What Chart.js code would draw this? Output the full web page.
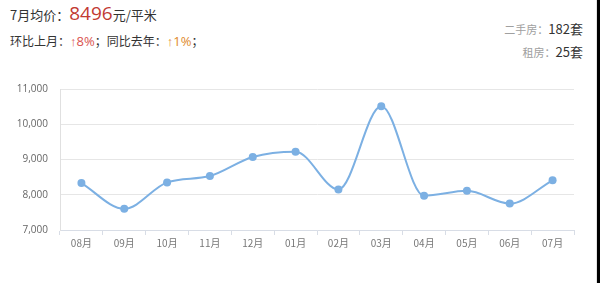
<!DOCTYPE html>
<html>
<head>
<meta charset="utf-8">
<script src="https://cdn.jsdelivr.net/npm/chart.js@4.4.1/dist/chart.umd.min.js"></script>
<style>
  html, body { margin: 0; padding: 0; background: #fff; }
  body { width: 600px; height: 283px; position: relative; overflow: hidden;
         font-family: "Noto Sans CJK SC", "Noto Sans", sans-serif; }
  #wrap { position: absolute; left: 0; top: 0; width: 600px; height: 283px; }
  .edge { position: absolute; top: 0; right: 0; width: 3px; height: 283px; background: #000; }
  .edge2 { position: absolute; top: 0; right: 3px; width: 1px; height: 283px; background: #e4e4e4; }
  .head1 { position: absolute; left: 10px; top: 0px; font-size: 13px; color: #333; white-space: nowrap; }
  .head1 .price { font-family: "Open Sans", "Noto Sans", sans-serif; font-size: 19px; color: #c23a32; }
  .head2 { position: absolute; left: 10px; top: 32px; font-size: 12px; color: #333; white-space: nowrap; }
  .up1 { color: #d9534f; font-family: "Open Sans", sans-serif; font-size: 13px; }
  .up2 { color: #e08a2c; font-family: "Open Sans", sans-serif; font-size: 13px; }
  .side { position: absolute; right: 17px; font-size: 11px; color: #a0a0a0; white-space: nowrap; text-align: right; }
  .side b { font-weight: normal; color: #333; font-size: 13px; }
</style>
</head>
<body>
<div class="head1">7月均价：<span class="price">8496</span>元/平米</div>
<div class="head2">环比上月：<span class="up1">↑8%</span>；同比去年：<span class="up2">↑1%</span>；</div>
<div class="side" style="top:19px">二手房：<b>182套</b></div>
<div class="side" style="top:42px">租房：<b>25套</b></div>
<div id="wrap"><canvas id="c"></canvas></div>
<div class="edge2"></div>
<div class="edge"></div>
<script>
const months = ['08月', '09月', '10月', '11月', '12月', '01月', '02月', '03月', '04月', '05月', '06月', '07月'];
const prices = [8330, 7600, 8350, 8530, 9070, 9220, 8150, 10510, 7970, 8110, 7750, 8410];
const yTicks = [7000, 8000, 9000, 10000, 11000];

const lineColor = '#7cb0e3';

new Chart(document.getElementById('c'), {
  type: 'line',
  data: {
    labels: months,
    datasets: [{
      data: prices,
      borderColor: lineColor,
      backgroundColor: lineColor,
      borderWidth: 2,
      cubicInterpolationMode: 'monotone',
      pointRadius: 4,
      pointBorderWidth: 0,
      pointBackgroundColor: lineColor,
      fill: false
    }]
  },
  options: {
    responsive: true,
    maintainAspectRatio: false,
    animation: false,
    layout: { padding: { top: 89, right: 26, left: 0, bottom: 0 } },
    plugins: { legend: { display: false }, tooltip: { enabled: false } },
    scales: {
      x: {
        offset: true,
        grid: { offset: true, drawOnChartArea: false, tickLength: 5, color: '#d8dde6' },
        border: { color: '#d8dde6' },
        ticks: { color: '#777', font: { size: 10, family: 'Noto Sans CJK SC' }, padding: 2, maxRotation: 0 },
        afterFit: (s) => { s.height = 53; }
      },
      y: {
        min: yTicks[0],
        max: yTicks[yTicks.length - 1],
        afterBuildTicks: (s) => { s.ticks = yTicks.map(v => ({ value: v })); },
        grid: { color: '#e6e6e6', drawTicks: false },
        border: { color: '#e0e0e0' },
        ticks: {
          color: '#666',
          font: { size: 10, family: 'Open Sans' },
          padding: 12,
          callback: v => v.toLocaleString('en-US')
        },
        afterFit: (s) => { s.width = 60; }
      }
    }
  }
});
</script>
</body>
</html>
